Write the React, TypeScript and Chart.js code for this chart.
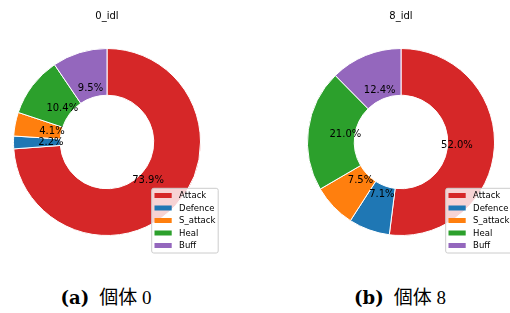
import React, { useEffect, useRef } from "react";
import { Chart, registerables } from "chart.js";

Chart.register(...registerables);

const categories = ["Attack", "Defence", "S_attack", "Heal", "Buff"];
const sliceColors = ["#d62728", "#1f77b4", "#ff7f0e", "#2ca02c", "#9467bd"];
const idl0Values = [73.9, 2.2, 4.1, 10.4, 9.5];
const idl8Values = [52.0, 7.1, 7.5, 21.0, 12.4];
const chartTitles = ["0_idl", "8_idl"];
const captionLabels = ["(a)", "(b)"];
const captionTexts = ["個体 0", "個体 8"];

const decorPlugin = {
  id: "pieDecor",
  afterDatasetsDraw(chart: any) {
    const ctx = chart.ctx as CanvasRenderingContext2D;
    const meta = chart.getDatasetMeta(0);
    const values = chart.data.datasets[0].data as number[];
    const labels = chart.data.labels as string[];
    const colors = chart.data.datasets[0].backgroundColor as string[];
    const title = chart.options.plugins.pieDecor.title as string;
    let cx = 0;
    let cy = 0;
    ctx.save();
    ctx.font = "10px 'DejaVu Sans'";
    ctx.fillStyle = "#000";
    ctx.textAlign = "center";
    ctx.textBaseline = "middle";
    meta.data.forEach((arc: any, i: number) => {
      const p = arc.getProps(["x", "y", "startAngle", "endAngle", "outerRadius"], true);
      cx = p.x;
      cy = p.y;
      const mid = (p.startAngle + p.endAngle) / 2;
      const r = p.outerRadius * 0.6;
      ctx.fillText(values[i].toFixed(1) + "%", p.x + Math.cos(mid) * r, p.y + Math.sin(mid) * r);
    });
    // title
    ctx.textBaseline = "alphabetic";
    ctx.fillText(title, cx, 19);
    // legend
    const bx = cx + 44.7;
    const by = cy + 46.3;
    const bw = 66.5;
    const bh = 64.7;
    ctx.beginPath();
    const rr = 2;
    ctx.moveTo(bx + rr, by);
    ctx.lineTo(bx + bw - rr, by);
    ctx.quadraticCurveTo(bx + bw, by, bx + bw, by + rr);
    ctx.lineTo(bx + bw, by + bh - rr);
    ctx.quadraticCurveTo(bx + bw, by + bh, bx + bw - rr, by + bh);
    ctx.lineTo(bx + rr, by + bh);
    ctx.quadraticCurveTo(bx, by + bh, bx, by + bh - rr);
    ctx.lineTo(bx, by + rr);
    ctx.quadraticCurveTo(bx, by, bx + rr, by);
    ctx.closePath();
    ctx.fillStyle = "rgba(255,255,255,0.8)";
    ctx.fill();
    ctx.strokeStyle = "#cccccc";
    ctx.lineWidth = 1;
    ctx.stroke();
    ctx.font = "8.5px 'DejaVu Sans'";
    ctx.textAlign = "left";
    ctx.textBaseline = "middle";
    labels.forEach((lab, i) => {
      const rowY = by + 7.2 + i * 12.5;
      ctx.fillStyle = colors[i];
      ctx.fillRect(bx + 2.8, rowY - 2.5, 17.2, 5);
      ctx.fillStyle = "#000";
      ctx.fillText(lab, bx + 27.4, rowY + 0.3);
    });
    ctx.restore();
  },
};

function PieChart({ values, title, padding }: { values: number[]; title: string; padding: any }) {
  const ref = useRef<HTMLCanvasElement>(null);
  useEffect(() => {
    if (!ref.current) return;
    const chart = new Chart(ref.current, {
      type: "doughnut",
      data: {
        labels: categories,
        datasets: [
          {
            data: values,
            backgroundColor: sliceColors,
            borderColor: "#ffffff",
            borderWidth: 1,
          },
        ],
      },
      options: {
        responsive: false,
        animation: false,
        cutout: "50%",
        layout: { padding },
        plugins: {
          legend: { display: false },
          tooltip: { enabled: false },
          title: { display: false },
          pieDecor: { title },
        } as any,
      },
      plugins: [decorPlugin as any],
    });
    return () => chart.destroy();
  }, [values, title, padding]);
  return <canvas ref={ref} width={255} height={270} style={{ width: 255, height: 270, display: "block" }} />;
}

const pad0 = { left: 13, top: 48, right: 54, bottom: 34 };
const pad8 = { left: 52, top: 48, right: 15, bottom: 34 };

function Caption({ label, text, center }: { label: string; text: string; center: number }) {
  return (
    <div
      style={{
        position: "absolute",
        left: center - 100,
        top: 288,
        width: 200,
        textAlign: "center",
        fontSize: 19,
        lineHeight: "20px",
        fontFamily: "'Liberation Serif', 'Noto Sans CJK JP', serif",
        color: "#000",
        whiteSpace: "nowrap",
      }}
    >
      <span style={{ fontWeight: "bold", fontFamily: "'DejaVu Serif', serif", fontSize: 18 }}>{label}</span>
      <span style={{ marginLeft: 10 }}>{text}</span>
    </div>
  );
}

export default function App() {
  useEffect(() => {
    document.body.style.margin = "0";
  }, []);
  return (
    <div style={{ position: "fixed", left: 0, top: 0, width: 510, height: 313, background: "#fff", overflow: "hidden" }}>
      <div style={{ position: "absolute", left: 0, top: 0 }}>
        <PieChart values={idl0Values} title={chartTitles[0]} padding={pad0} />
      </div>
      <div style={{ position: "absolute", left: 255, top: 0 }}>
        <PieChart values={idl8Values} title={chartTitles[1]} padding={pad8} />
      </div>
      <Caption label={captionLabels[0]} text={captionTexts[0]} center={106} />
      <Caption label={captionLabels[1]} text={captionTexts[1]} center={400} />
    </div>
  );
}
